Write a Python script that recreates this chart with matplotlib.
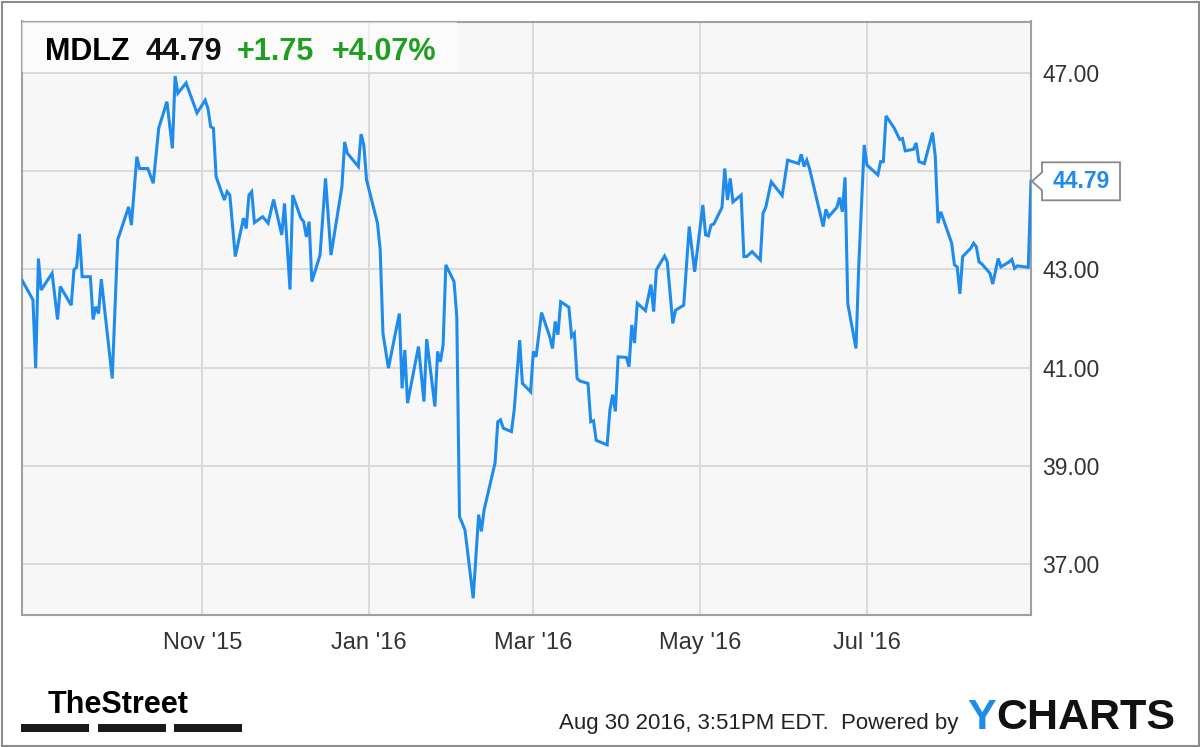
import matplotlib
matplotlib.use('Agg')
import matplotlib.pyplot as plt
import matplotlib.dates as mdates
from matplotlib.patches import Rectangle, Polygon
import pandas as pd

# header values
ticker = 'MDLZ'
last_price = 44.79
change = '+1.75'
change_pct = '+4.07%'

# price series
dates = [
    '2015-08-27', '2015-08-31', '2015-09-01', '2015-09-02', '2015-09-03', '2015-09-07',
    '2015-09-09', '2015-09-10', '2015-09-14', '2015-09-15', '2015-09-16', '2015-09-17',
    '2015-09-18', '2015-09-21', '2015-09-22', '2015-09-23', '2015-09-24', '2015-09-25',
    '2015-09-29', '2015-09-30', '2015-10-01', '2015-10-05', '2015-10-06', '2015-10-08',
    '2015-10-09', '2015-10-12', '2015-10-14', '2015-10-16', '2015-10-19', '2015-10-21',
    '2015-10-22', '2015-10-23', '2015-10-26', '2015-10-30', '2015-11-02', '2015-11-03',
    '2015-11-04', '2015-11-05', '2015-11-06', '2015-11-09', '2015-11-10', '2015-11-11',
    '2015-11-13', '2015-11-16', '2015-11-17', '2015-11-18', '2015-11-19', '2015-11-20',
    '2015-11-23', '2015-11-25', '2015-11-27', '2015-11-30', '2015-12-01', '2015-12-03',
    '2015-12-04', '2015-12-07', '2015-12-08', '2015-12-09', '2015-12-10', '2015-12-11',
    '2015-12-14', '2015-12-16', '2015-12-18', '2015-12-22', '2015-12-23', '2015-12-24',
    '2015-12-28', '2015-12-29', '2015-12-30', '2015-12-31', '2016-01-04', '2016-01-05',
    '2016-01-06', '2016-01-08', '2016-01-12', '2016-01-13', '2016-01-14', '2016-01-15',
    '2016-01-19', '2016-01-21', '2016-01-22', '2016-01-25', '2016-01-26', '2016-01-27',
    '2016-01-28', '2016-01-29', '2016-02-01', '2016-02-02', '2016-02-03', '2016-02-05',
    '2016-02-08', '2016-02-10', '2016-02-11', '2016-02-12', '2016-02-16', '2016-02-17',
    '2016-02-18', '2016-02-19', '2016-02-22', '2016-02-23', '2016-02-25', '2016-02-26',
    '2016-02-29', '2016-03-01', '2016-03-02', '2016-03-04', '2016-03-07', '2016-03-08',
    '2016-03-09', '2016-03-10', '2016-03-11', '2016-03-14', '2016-03-15', '2016-03-16',
    '2016-03-17', '2016-03-18', '2016-03-21', '2016-03-22', '2016-03-23', '2016-03-24',
    '2016-03-28', '2016-03-29', '2016-03-30', '2016-03-31', '2016-04-01', '2016-04-04',
    '2016-04-05', '2016-04-06', '2016-04-07', '2016-04-08', '2016-04-11', '2016-04-13',
    '2016-04-14', '2016-04-15', '2016-04-18', '2016-04-19', '2016-04-21', '2016-04-22',
    '2016-04-25', '2016-04-27', '2016-04-29', '2016-05-02', '2016-05-03', '2016-05-04',
    '2016-05-05', '2016-05-06', '2016-05-09', '2016-05-10', '2016-05-11', '2016-05-12',
    '2016-05-13', '2016-05-16', '2016-05-17', '2016-05-18', '2016-05-20', '2016-05-23',
    '2016-05-24', '2016-05-25', '2016-05-27', '2016-05-31', '2016-06-02', '2016-06-06',
    '2016-06-07', '2016-06-08', '2016-06-09', '2016-06-10', '2016-06-15', '2016-06-16',
    '2016-06-17', '2016-06-20', '2016-06-21', '2016-06-22', '2016-06-23', '2016-06-24',
    '2016-06-27', '2016-06-28', '2016-06-30', '2016-07-01', '2016-07-05', '2016-07-06',
    '2016-07-07', '2016-07-08', '2016-07-11', '2016-07-13', '2016-07-14', '2016-07-15',
    '2016-07-18', '2016-07-19', '2016-07-20', '2016-07-22', '2016-07-25', '2016-07-26',
    '2016-07-27', '2016-07-28', '2016-08-01', '2016-08-02', '2016-08-03', '2016-08-04',
    '2016-08-05', '2016-08-08', '2016-08-09', '2016-08-10', '2016-08-11', '2016-08-12',
    '2016-08-15', '2016-08-16', '2016-08-18', '2016-08-19', '2016-08-22', '2016-08-23',
    '2016-08-24', '2016-08-25', '2016-08-29', '2016-08-30',
]
prices = [
    42.78, 42.38, 40.99, 43.22, 42.58, 42.92,
    41.98, 42.65, 42.27, 42.99, 43.05, 43.72,
    42.85, 42.85, 41.98, 42.24, 42.10, 42.80,
    40.78, 42.17, 43.60, 44.27, 43.90, 45.29,
    45.05, 45.05, 44.75, 45.87, 46.41, 45.46,
    46.93, 46.58, 46.79, 46.18, 46.44, 46.27,
    45.90, 45.87, 44.88, 44.41, 44.58, 44.51,
    43.26, 44.04, 43.83, 44.51, 44.58, 43.95,
    44.07, 43.94, 44.42, 43.70, 44.34, 42.59,
    44.51, 44.04, 43.97, 43.66, 43.97, 42.75,
    43.29, 44.85, 43.29, 44.68, 45.59, 45.36,
    45.09, 45.75, 45.53, 44.82, 43.94, 43.39,
    41.70, 40.99, 42.10, 40.58, 41.36, 40.28,
    41.43, 40.31, 41.58, 40.21, 41.33, 41.12,
    41.46, 43.09, 42.75, 42.04, 37.97, 37.70,
    36.31, 38.01, 37.67, 38.11, 39.06, 39.90,
    39.94, 39.77, 39.70, 40.14, 41.56, 40.68,
    40.51, 41.33, 41.22, 42.12, 41.63, 41.39,
    41.94, 41.67, 42.34, 42.23, 41.63, 41.70,
    40.78, 40.73, 40.68, 39.90, 39.92, 39.52,
    39.43, 40.14, 40.45, 40.11, 41.22, 41.21,
    41.02, 41.87, 41.50, 42.31, 42.16, 42.69,
    42.14, 42.99, 43.27, 43.15, 41.90, 42.17,
    42.27, 43.87, 42.95, 44.31, 43.70, 43.68,
    43.90, 43.92, 44.26, 45.05, 44.41, 44.85,
    44.37, 44.51, 43.26, 43.26, 43.36, 43.19,
    44.14, 44.26, 44.78, 44.50, 45.22, 45.15,
    45.34, 45.09, 45.22, 45.05, 43.87, 44.22,
    44.07, 44.26, 44.46, 44.17, 44.87, 42.30,
    41.39, 43.05, 45.53, 45.12, 44.92, 45.19,
    45.19, 46.12, 45.87, 45.64, 45.66, 45.41,
    45.44, 45.57, 45.19, 45.15, 45.78, 45.29,
    43.94, 44.17, 43.53, 43.09, 43.05, 42.50,
    43.26, 43.43, 43.53, 43.46, 43.15, 43.11,
    42.92, 42.70, 43.22, 43.05, 43.15, 43.20,
    43.02, 43.07, 43.04, 44.79,
]

y_ticks = [37, 39, 41, 43, 45, 47]
x_ticks = ['2015-11-01', '2016-01-01', '2016-03-01', '2016-05-01', '2016-07-01']
x_tick_labels = ["Nov '15", "Jan '16", "Mar '16", "May '16", "Jul '16"]

dt = pd.to_datetime(dates)

plt.rcParams['font.family'] = ['Liberation Sans', 'DejaVu Sans']

W, H = 1200, 747
fig = plt.figure(figsize=(W / 100, H / 100), dpi=100)
fig.patch.set_facecolor('white')

ax = fig.add_axes([22 / W, 1 - 615 / H, (1031 - 22) / W, (615 - 21.5) / H])
ax.set_facecolor('#f7f7f7')

line_color = '#1f8ceb'
ax.plot(dt, prices, color=line_color, lw=2.2, solid_joinstyle='miter', zorder=3)

ax.set_xlim(pd.Timestamp('2015-08-27'), pd.Timestamp('2016-08-30'))
ax.set_ylim(35.97, 48.04)

ax.set_yticks(y_ticks)
ax.set_yticklabels(['%.2f' % v for v in y_ticks])
ax.yaxis.tick_right()
ax.set_xticks(pd.to_datetime(x_ticks))
ax.set_xticklabels(x_tick_labels)
ax.tick_params(axis='both', length=0, labelcolor='#333333')
ax.tick_params(axis='y', pad=8, labelsize=16.5)
ax.tick_params(axis='x', pad=12, labelsize=17)
ax.grid(True, color='#dadada', lw=1.4, zorder=0)
ax.set_axisbelow(True)
for s in ax.spines.values():
    s.set_color('#a0a0a0')
    s.set_linewidth(1.5)

# header panel
ax.add_patch(Rectangle((0, (615 - 72) / (615 - 21.5)), (457 - 22) / 1009,
                       1 - (615 - 72) / (615 - 21.5), transform=ax.transAxes,
                       facecolor='white', alpha=0.55, edgecolor='none', zorder=4))
green = '#1f9e1f'
fig.text(45 / W, 1 - 60 / H, ticker, fontsize=22, fontweight='bold', color='black', va='baseline')
fig.text(145 / W, 1 - 60 / H, '%.2f' % last_price, fontsize=22, fontweight='bold', color='#111111', va='baseline')
fig.text(237 / W, 1 - 60 / H, change, fontsize=22, fontweight='bold', color=green, va='baseline')
fig.text(332 / W, 1 - 60 / H, change_pct, fontsize=22, fontweight='bold', color=green, va='baseline')

# last price flag
fig.canvas.draw()
tip = ax.transData.transform((mdates.date2num(dt[-1]), prices[-1]))
tx, ty = tip[0] + 1, tip[1]
flag = [(tx, ty), (tx + 10, ty + 9), (tx + 10, ty + 19), (tx + 88, ty + 19),
        (tx + 88, ty - 19), (tx + 10, ty - 19), (tx + 10, ty - 9)]
flag = [fig.transFigure.inverted().transform(p) for p in flag]
fig.patches.append(Polygon(flag, closed=True, facecolor='white', edgecolor='#888888',
                           lw=1.3, transform=fig.transFigure, figure=fig, zorder=10))
fx, fy = fig.transFigure.inverted().transform((tx + 49, ty))
fig.text(fx, fy, '%.2f' % last_price, fontsize=16.5, fontweight='bold', color=line_color,
         ha='center', va='center', zorder=11)

# footer
fig.text(188 / W, 1 - 713 / H, 'TheStreet', fontsize=22, fontweight='bold', ha='right',
         va='baseline', family=['Liberation Sans Narrow', 'Liberation Sans'])
for x0 in [20.5, 97.5, 174]:
    fig.patches.append(Rectangle((x0 / W, 1 - 732 / H), 68 / W, 8 / H, transform=fig.transFigure,
                                 facecolor='#1a1a1a', edgecolor='none', figure=fig))
fig.text(958 / W, 1 - 729 / H, 'Aug 30 2016, 3:51PM EDT.  Powered by', fontsize=16,
         color='#222222', ha='right', va='baseline')
fig.text(967 / W, 1 - 729 / H, 'Y', fontsize=31, fontweight='bold', color='#1f8ceb', va='baseline')
fig.text(996 / W, 1 - 729 / H, 'CHARTS', fontsize=31, fontweight='bold', color='#111111', va='baseline')

# outer frame
fig.patches.append(Rectangle((1.5 / W, 1.5 / H), 1 - 3 / W, 1 - 3 / H, transform=fig.transFigure,
                             facecolor='none', edgecolor='#8c8c8c', lw=1.5, figure=fig))

fig.savefig('out.png', dpi=100)
